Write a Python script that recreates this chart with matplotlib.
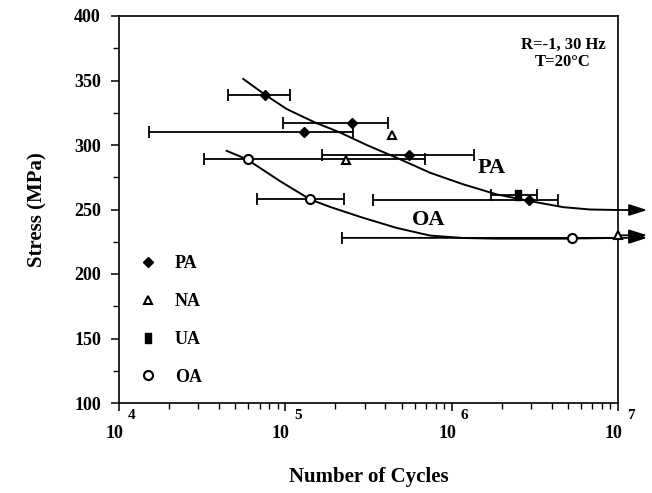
import numpy as np
import matplotlib
matplotlib.use('Agg')
import matplotlib.pyplot as plt
from matplotlib.lines import Line2D
from matplotlib.ticker import MultipleLocator, LogLocator, NullFormatter

plt.rcParams['font.family'] = ['Liberation Serif', 'DejaVu Serif']
plt.rcParams['font.weight'] = 'bold'

#PA data (filled diamonds), scatter range as min/max cycles
pa_N = [7.55e4, 2.53e5, 1.29e5, 5.55e5, 2.92e6]
pa_S = [339, 317, 310, 292, 257]
pa_lo = [4.54e4, 9.7e4, 1.52e4, 1.65e5, 3.38e5]
pa_hi = [1.06e5, 4.16e5, 2.56e5, 1.37e6, 4.38e6]

#NA data (open triangles)
na_N = [4.4e5, 2.3e5, 1.0e7]
na_S = [308, 288, 230]

#UA data (filled square)
ua_N = [2.52e6]
ua_S = [261]
ua_lo = [1.72e6]
ua_hi = [3.27e6]

#OA data (open circles), last point is a run-out
oa_N = [6.0e4, 1.41e5, 5.27e6]
oa_S = [289, 258, 228]
oa_lo = [3.24e4, 6.73e4, 2.18e5]
oa_hi = [6.92e5, 2.26e5]

pa_curve_logN = [4.747, 4.878, 5.008, 5.179, 5.329, 5.489, 5.68, 5.87, 6.07, 6.271, 6.471, 6.672, 6.832, 7.0]
pa_curve_S = [351.2, 339.0, 327.9, 317.4, 309.7, 300.0, 289.5, 278.5, 269.5, 261.7, 256.5, 251.8, 250.0, 249.6]
oa_curve_logN = [4.647, 4.768, 4.968, 5.148, 5.269, 5.469, 5.67, 5.87, 6.07, 6.27, 6.67, 7.0]
oa_curve_S = [295.5, 289.0, 272.0, 257.9, 252.0, 243.5, 235.7, 229.8, 227.9, 227.4, 227.4, 228.0]

runout_tip = 1.5e7
xticks_exp = [4, 5, 6, 7]

fig = plt.figure(figsize=(6.52, 4.93), dpi=100)
ax = fig.add_axes([119/652, 1-403/493, (618-119)/652, (403-16)/493])

lw = 1.3
cap = 4.3

def bars(N, S, lo, hi):
    N = np.array(N); lo = np.array(lo); hi = np.array(hi)
    ax.errorbar(N, S, xerr=[N-lo, hi-N], fmt='none', ecolor='k',
                elinewidth=lw, capsize=cap, capthick=lw, zorder=2)

bars(pa_N, pa_S, pa_lo, pa_hi)
bars(ua_N, ua_S, ua_lo, ua_hi)
bars(oa_N[:2], oa_S[:2], oa_lo[:2], oa_hi)

#curves
ax.plot(10**np.array(pa_curve_logN), pa_curve_S, 'k', lw=1.4, zorder=2)
ax.plot(10**np.array(oa_curve_logN), oa_curve_S, 'k', lw=1.4, zorder=2)

#run-out arrows
aprops = dict(arrowstyle='-|>,head_length=1.1,head_width=0.35', color='k',
              lw=lw, shrinkA=0, shrinkB=0)
ax.annotate('', xy=(runout_tip, pa_curve_S[-1]), xytext=(10**pa_curve_logN[-1], pa_curve_S[-1]),
            arrowprops=aprops, annotation_clip=False)
ax.annotate('', xy=(runout_tip, oa_S[2]), xytext=(oa_lo[2], oa_S[2]),
            arrowprops=aprops, annotation_clip=False)
ax.annotate('', xy=(runout_tip, na_S[2]), xytext=(na_N[2], na_S[2]),
            arrowprops=aprops, annotation_clip=False)
ax.plot([oa_lo[2]], [oa_S[2]], marker='|', ms=2*cap, mew=lw, color='k', zorder=2)

#markers
ua_marker = [(-0.55, -1), (0.55, -1), (0.55, 1), (-0.55, 1), (-0.55, -1)]
ax.plot(pa_N, pa_S, 'D', color='k', ms=5.5, ls='none', zorder=4, clip_on=False)
ax.plot(na_N, na_S, '^', mfc='white', mec='k', mew=1.5, ms=6, ls='none', zorder=4, clip_on=False)
ax.plot(ua_N, ua_S, marker=ua_marker, color='k', ms=7, ls='none', zorder=4)
ax.plot(oa_N, oa_S, 'o', mfc='white', mec='k', mew=1.5, ms=6.5, ls='none', zorder=4)

ax.text(10**6.241, 282.4, 'PA', fontsize=16, ha='center', va='center')
ax.text(10**5.86, 242, 'OA', fontsize=16, ha='center', va='center')
ax.text(0.89, 0.903, 'R=-1, 30 Hz\nT=20°C', transform=ax.transAxes,
        ha='center', va='center', fontsize=12, linespacing=1.05)

#legend
handles = [Line2D([], [], marker='D', ls='none', color='k', ms=5.5),
           Line2D([], [], marker='^', ls='none', mfc='white', mec='k', mew=1.5, ms=6),
           Line2D([], [], marker=ua_marker, ls='none', color='k', ms=7),
           Line2D([], [], marker='o', ls='none', mfc='white', mec='k', mew=1.5, ms=6.5)]
ax.legend(handles, ['PA', 'NA', 'UA', 'OA'], loc='lower left', bbox_to_anchor=(0.04, 0.045),
          frameon=False, fontsize=13, handlelength=1.0, handletextpad=1.0,
          labelspacing=1.15, borderpad=0, borderaxespad=0)

#axes
ax.set_xscale('log')
ax.set_xlim([1e4, 1e7])
ax.set_ylim([100, 400])
ax.yaxis.set_major_locator(MultipleLocator(50))
ax.yaxis.set_minor_locator(MultipleLocator(25))
ax.xaxis.set_major_locator(LogLocator(base=10))
ax.xaxis.set_minor_locator(LogLocator(base=10, subs=np.arange(2, 10)))
ax.xaxis.set_major_formatter(NullFormatter())
ax.xaxis.set_minor_formatter(NullFormatter())
for s in ax.spines.values():
    s.set_linewidth(1.2)
ax.tick_params(which='major', direction='out', length=6, width=1.1, labelsize=13, pad=7)
ax.tick_params(which='minor', direction='out', length=4, width=1.0)
for lab in ax.get_yticklabels():
    lab.set_fontweight('bold')

for k in xticks_exp:
    ax.annotate('10', xy=(10**k, 0), xycoords=('data', 'axes fraction'),
                xytext=(-3.2, -22), textcoords='offset points',
                ha='center', va='center', fontsize=13, annotation_clip=False)
    ax.annotate(str(k), xy=(10**k, 0), xycoords=('data', 'axes fraction'),
                xytext=(9, -9), textcoords='offset points',
                ha='center', va='center', fontsize=11, annotation_clip=False)

ax.set_xlabel('Number of Cycles', fontsize=15, fontweight='bold', labelpad=33)
ax.set_ylabel('Stress (MPa)', fontsize=15, fontweight='bold', labelpad=19)

plt.savefig('out.png', dpi=100)
